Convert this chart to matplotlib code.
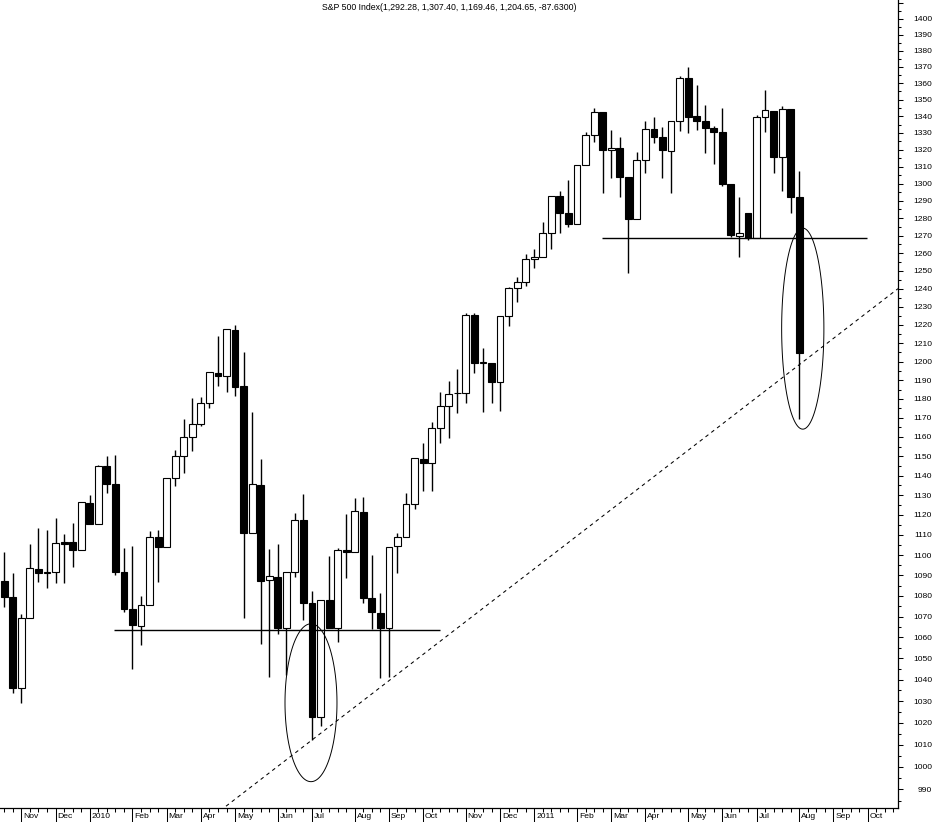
"""
Weekly S&P 500 candlestick chart (Oct 2009 - Aug 2011) with support lines,
a rising trend line and two highlighted weeks.

Output: out.png
"""
import numpy as np
import pandas as pd
import matplotlib
matplotlib.use("Agg")
import matplotlib.pyplot as plt
from matplotlib.patches import Rectangle, Polygon
from matplotlib.ticker import FixedLocator, FuncFormatter, NullFormatter

plt.rcParams["font.family"] = ["Liberation Sans", "DejaVu Sans"]

# --- weekly OHLC, first week starts Sunday 2009-10-18 ---
first_week = "2009-10-18"
opens = [1087.3, 1079.5, 1036.2, 1069.3, 1093.2, 1091.2, 1091.7, 1106.5, 1106.5, 1102.6,
         1126.1, 1115.5, 1145.0, 1135.8, 1091.7, 1073.7, 1065.5, 1075.6, 1109.0, 1104.0,
         1138.8, 1150.2, 1160.0, 1166.8, 1177.9, 1193.9, 1192.3, 1217.2, 1186.9, 1111.0,
         1135.3, 1087.8, 1089.2, 1064.5, 1091.7, 1117.5, 1076.6, 1022.8, 1078.0, 1064.5,
         1102.6, 1101.6, 1121.6, 1079.0, 1071.7, 1064.5, 1104.6, 1109.0, 1125.6, 1148.6,
         1146.5, 1164.7, 1176.3, 1183.2, 1183.2, 1225.4, 1199.3, 1199.3, 1189.1, 1224.9,
         1240.4, 1243.7, 1256.7, 1257.8, 1271.4, 1292.8, 1282.9, 1276.6, 1310.9, 1328.7,
         1342.5, 1319.8, 1321.0, 1303.9, 1279.5, 1313.9, 1332.3, 1327.5, 1319.2, 1337.1,
         1363.2, 1340.1, 1337.1, 1332.9, 1330.5, 1299.8, 1269.7, 1282.9, 1268.6, 1339.5,
         1343.2, 1315.7, 1344.4, 1292.28]
highs = [1101.6, 1091.2, 1071.3, 1105.6, 1113.5, 1112.5, 1118.5, 1110.5, 1116.0, 1126.6,
         1130.2, 1145.5, 1150.2, 1150.7, 1103.6, 1104.6, 1080.0, 1112.0, 1112.5, 1138.8,
         1153.3, 1169.4, 1180.5, 1181.1, 1194.4, 1213.9, 1217.7, 1220.0, 1205.2, 1173.1,
         1148.6, 1103.1, 1105.6, 1091.7, 1121.0, 1130.7, 1082.4, 1078.0, 1099.6, 1103.6,
         1120.5, 1128.6, 1129.2, 1100.1, 1081.4, 1104.0, 1111.0, 1131.2, 1149.1, 1156.9,
         1167.9, 1183.7, 1189.6, 1196.0, 1226.5, 1226.5, 1207.4, 1199.3, 1224.9, 1241.0,
         1246.6, 1259.5, 1262.3, 1277.8, 1292.8, 1295.7, 1302.1, 1310.9, 1330.5, 1345.0,
         1342.5, 1331.7, 1327.5, 1303.9, 1318.6, 1337.1, 1339.5, 1333.5, 1337.1, 1364.5,
         1370.0, 1359.0, 1346.8, 1334.1, 1345.0, 1299.8, 1292.2, 1282.9, 1340.7, 1355.9,
         1343.2, 1346.2, 1344.4, 1307.40]
lows = [1074.6, 1033.9, 1029.2, 1069.3, 1086.8, 1083.8, 1086.3, 1086.3, 1094.2, 1102.6,
        1115.5, 1115.5, 1131.2, 1090.2, 1072.2, 1045.1, 1056.4, 1075.6, 1086.8, 1104.0,
        1134.7, 1141.4, 1152.7, 1165.8, 1175.2, 1186.9, 1183.7, 1181.6, 1069.3, 1111.0,
        1056.9, 1041.3, 1061.7, 1042.3, 1089.2, 1068.4, 1012.3, 1018.6, 1064.5, 1057.9,
        1088.7, 1101.6, 1076.6, 1064.1, 1040.9, 1041.3, 1091.2, 1109.0, 1123.1, 1132.2,
        1132.2, 1156.9, 1159.5, 1172.6, 1177.9, 1193.9, 1173.1, 1177.9, 1173.7, 1219.4,
        1232.6, 1241.5, 1251.6, 1257.8, 1262.3, 1271.4, 1274.9, 1276.6, 1310.9, 1324.6,
        1294.5, 1303.3, 1292.2, 1248.8, 1279.5, 1306.2, 1324.0, 1303.3, 1294.5, 1331.1,
        1329.9, 1331.7, 1318.0, 1311.5, 1298.6, 1269.2, 1257.8, 1267.5, 1268.6, 1330.5,
        1306.2, 1295.7, 1282.9, 1169.46]
closes = [1079.5, 1036.2, 1069.3, 1093.7, 1091.2, 1091.5, 1106.0, 1105.6, 1102.6, 1126.6,
          1115.5, 1145.0, 1135.8, 1091.7, 1073.7, 1066.0, 1075.6, 1109.0, 1104.0, 1138.8,
          1150.2, 1160.0, 1166.8, 1177.9, 1194.4, 1192.3, 1217.7, 1186.4, 1111.0, 1135.8,
          1087.3, 1089.7, 1064.5, 1091.7, 1117.5, 1076.6, 1022.8, 1078.0, 1064.5, 1102.6,
          1101.6, 1122.1, 1079.0, 1072.2, 1064.5, 1104.0, 1109.0, 1125.6, 1149.1, 1146.5,
          1164.7, 1176.3, 1182.7, 1183.3, 1225.4, 1199.3, 1199.7, 1189.1, 1224.9, 1240.4,
          1243.7, 1256.7, 1257.8, 1271.4, 1292.8, 1282.9, 1276.6, 1310.9, 1328.7, 1342.5,
          1319.8, 1321.0, 1303.9, 1279.5, 1313.9, 1332.3, 1327.5, 1319.8, 1337.1, 1363.2,
          1339.5, 1337.1, 1332.9, 1330.5, 1299.8, 1270.3, 1271.4, 1268.6, 1339.5, 1343.7,
          1315.7, 1344.4, 1292.2, 1204.65]

title = "S&P 500 Index(1,292.28, 1,307.40, 1,169.46, 1,204.65, -87.6300)"

# month tick labels (tick sits on the week holding the 1st of the month)
month_starts = ["2009-11-01", "2009-12-01", "2010-01-01", "2010-02-01", "2010-03-01",
                "2010-04-01", "2010-05-01", "2010-06-01", "2010-07-01", "2010-08-01",
                "2010-09-01", "2010-10-01", "2010-11-01", "2010-12-01", "2011-01-01",
                "2011-02-01", "2011-03-01", "2011-04-01", "2011-05-01", "2011-06-01",
                "2011-07-01", "2011-08-01", "2011-09-01", "2011-10-01"]
month_labels = ["Nov", "Dec", "2010", "Feb", "Mar", "Apr", "May", "Jun", "Jul", "Aug",
                "Sep", "Oct", "Nov", "Dec", "2011", "Feb", "Mar", "Apr", "May", "Jun",
                "Jul", "Aug", "Sep", "Oct"]

# annotations: support levels (price, from week, to week)
support_levels = [(1063.6, 12.83, 50.97), (1268.6, 69.92, 100.89)]
# trend line through two (week, price) points
trend_x = [25.94, 104.55]
trend_y = [982.5, 1240.0]
# highlight ellipses: centre week, centre price, half width (weeks), half height (log)
ell_x = [35.88, 93.41]
ell_price = [1029.3, 1217.9]
ell_a = [3.04, 2.47]
ell_b = [0.0355, 0.0452]

n_weeks_axis = 105

fig = plt.figure(figsize=(9.34, 8.22), dpi=100)
ax = fig.add_axes([0, 14 / 822, 898 / 934, 808 / 822])

idx = np.arange(len(opens))
ax.vlines(idx, lows, highs, color="black", lw=1.0, zorder=1)
bw = 0.8
for i, (o, c) in enumerate(zip(opens, closes)):
    lo, hi = min(o, c), max(o, c)
    face = "white" if c >= o else "black"
    ax.add_patch(Rectangle((i - bw / 2, lo), bw, hi - lo, facecolor=face,
                           edgecolor="black", lw=0.8, zorder=2))

for level, x0, x1 in support_levels:
    ax.hlines(level, x0, x1, color="black", lw=1.0, zorder=3)

ax.plot(trend_x, trend_y, color="black", lw=0.75, ls=(0, (3.5, 3.5)), zorder=3)

t = np.linspace(0, 2 * np.pi, 300, endpoint=False)
for cx, cp, a, b in zip(ell_x, ell_price, ell_a, ell_b):
    pts = np.column_stack([cx + a * np.cos(t), cp * np.exp(b * np.sin(t))])
    ax.add_patch(Polygon(pts, closed=True, fill=False, edgecolor="black",
                         lw=0.7, zorder=3))

ax.set_yscale("log")
ax.set_xlim(-0.5, 104.55)
ax.set_ylim(981.7, 1411.9)

# y axis on the right
ax.yaxis.set_major_locator(FixedLocator(np.arange(990, 1411, 10)))
ax.yaxis.set_minor_locator(FixedLocator(np.arange(985, 1415, 10)))
ax.yaxis.set_major_formatter(FuncFormatter(lambda v, p: "" if v > 1400 else f"{v:.0f}"))
ax.yaxis.set_minor_formatter(NullFormatter())
ax.tick_params(axis="y", which="both", left=False, right=True, labelleft=False,
               labelright=True, direction="out", width=0.75, labelsize=6.1)
ax.tick_params(axis="y", which="major", length=3.6, pad=20.9)
ax.tick_params(axis="y", which="minor", length=1.8)
for lbl in ax.yaxis.get_majorticklabels():
    lbl.set_horizontalalignment("right")

# x axis: weekly minor ticks, long month ticks, labels to the right of the tick
weeks = pd.Timestamp(first_week)
month_pos = [(pd.Timestamp(d) - weeks).days // 7 for d in month_starts]
ax.xaxis.set_minor_locator(FixedLocator(np.arange(n_weeks_axis)))
ax.xaxis.set_major_locator(FixedLocator(month_pos))
ax.xaxis.set_major_formatter(NullFormatter())
ax.tick_params(axis="x", which="major", length=11, width=0.75, direction="out")
ax.tick_params(axis="x", which="minor", length=2.7, width=0.75, direction="out")
for pos, lab in zip(month_pos, month_labels):
    ax.annotate(lab, xy=(pos, 0), xycoords=("data", "axes fraction"),
                xytext=(1.3, -3.3), textcoords="offset points",
                ha="left", va="top", fontsize=6.1, annotation_clip=False)

for side in ("left", "top"):
    ax.spines[side].set_visible(False)
for side in ("right", "bottom"):
    ax.spines[side].set_linewidth(0.9)

fig.text(449 / 934, 1 - 7 / 822, title, ha="center", va="center", fontsize=6.3)

fig.savefig("out.png", dpi=100)
plt.close(fig)
